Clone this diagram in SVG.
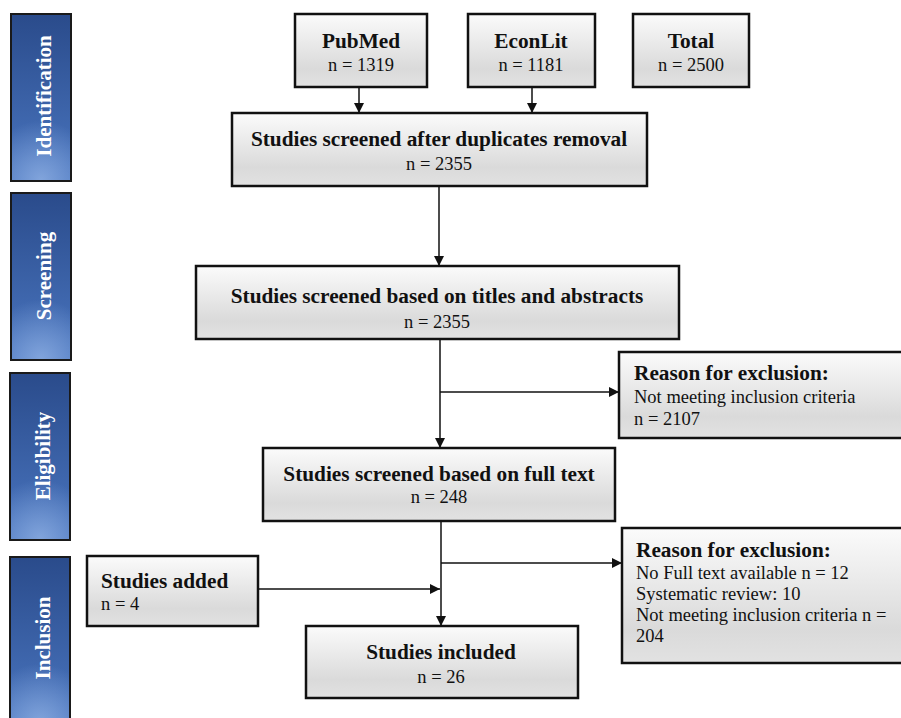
<svg xmlns="http://www.w3.org/2000/svg" width="901" height="718" viewBox="0 0 901 718">
<defs>
<linearGradient id="boxg" x1="0" y1="0" x2="0" y2="1">
<stop offset="0" stop-color="#fbfbfb"/>
<stop offset="0.75" stop-color="#dadada"/>
<stop offset="1" stop-color="#e2e2e2"/>
</linearGradient>
<linearGradient id="sideg" x1="0" y1="0" x2="0" y2="1">
<stop offset="0" stop-color="#2a4b8b"/>
<stop offset="1" stop-color="#4a76c0"/>
</linearGradient>
<radialGradient id="sideglow" cx="0.5" cy="1" r="0.6" gradientTransform="translate(0.5 1) scale(1.6 0.6) translate(-0.5 -1)">
<stop offset="0" stop-color="#8fb0e3" stop-opacity="0.8"/>
<stop offset="1" stop-color="#8fb0e3" stop-opacity="0"/>
</radialGradient>
<marker id="arr" viewBox="0 0 10 10" refX="10" refY="5" markerWidth="10" markerHeight="10" markerUnits="userSpaceOnUse" orient="auto">
<path d="M0,0 L10,5 L0,10 z" fill="#111"/>
</marker>
</defs>
<style>
.box{fill:url(#boxg);stroke:#111;stroke-width:2.5}
.side{fill:url(#sideg);stroke:#1a1a1a;stroke-width:2}
.glow{fill:url(#sideglow);stroke:none}
.st{font-family:"Liberation Serif","Times New Roman",serif;font-weight:bold;font-size:21.3px;fill:#111}
.sn{font-family:"Liberation Serif","Times New Roman",serif;font-size:18.5px;fill:#111}
.sl{font-family:"Liberation Serif","Times New Roman",serif;font-weight:bold;font-size:21px;fill:#fff}
.c{text-anchor:middle}
.ln{stroke:#111;stroke-width:1.5;fill:none}
</style>
<rect width="901" height="718" fill="#fff"/>

<g id="side-identification">
<rect class="side" x="11" y="14" width="60" height="167"/>
<rect class="glow" x="12" y="15" width="58" height="165"/>
<text class="sl c" transform="translate(51 96) rotate(-90)">Identification</text>
</g>
<g id="side-screening">
<rect class="side" x="11" y="193" width="60" height="167"/>
<rect class="glow" x="12" y="194" width="58" height="165"/>
<text class="sl c" transform="translate(51 276) rotate(-90)">Screening</text>
</g>
<g id="side-eligibility">
<rect class="side" x="10" y="373" width="60" height="167"/>
<rect class="glow" x="11" y="374" width="58" height="165"/>
<text class="sl c" transform="translate(50 456) rotate(-90)">Eligibility</text>
</g>
<g id="side-inclusion">
<rect class="side" x="10" y="557" width="60" height="167"/>
<rect class="glow" x="11" y="558" width="58" height="165"/>
<text class="sl c" transform="translate(50 638) rotate(-90)">Inclusion</text>
</g>

<g id="connectors">
<line class="ln" x1="359" y1="87" x2="359" y2="113" marker-end="url(#arr)"/>
<line class="ln" x1="532" y1="87" x2="532" y2="113" marker-end="url(#arr)"/>
<line class="ln" x1="439" y1="186" x2="439" y2="266" marker-end="url(#arr)"/>
<line class="ln" x1="440" y1="339" x2="440" y2="448" marker-end="url(#arr)"/>
<line class="ln" x1="440" y1="392" x2="619" y2="392" marker-end="url(#arr)"/>
<line class="ln" x1="441" y1="521" x2="441" y2="626" marker-end="url(#arr)"/>
<line class="ln" x1="441" y1="563" x2="622" y2="563" marker-end="url(#arr)"/>
<line class="ln" x1="258" y1="589" x2="440" y2="589" marker-end="url(#arr)"/>
</g>

<g id="pubmed">
<rect class="box" x="295" y="14" width="132" height="73"/>
<text class="st c" x="361" y="48">PubMed</text>
<text class="sn c" x="361" y="71">n = 1319</text>
</g>
<g id="econlit">
<rect class="box" x="468" y="14" width="127" height="73"/>
<text class="st c" x="531" y="48">EconLit</text>
<text class="sn c" x="531" y="71">n = 1181</text>
</g>
<g id="total">
<rect class="box" x="633" y="14" width="116" height="73"/>
<text class="st c" x="691" y="48">Total</text>
<text class="sn c" x="691" y="71">n = 2500</text>
</g>
<g id="duplicates">
<rect class="box" x="232" y="113" width="415" height="73"/>
<text class="st c" x="439" y="146">Studies screened after duplicates removal</text>
<text class="sn c" x="439" y="170">n = 2355</text>
</g>
<g id="titles-abstracts">
<rect class="box" x="196" y="266" width="483" height="73"/>
<text class="st c" x="437" y="303">Studies screened based on titles and abstracts</text>
<text class="sn c" x="437" y="328">n = 2355</text>
</g>
<g id="exclusion1">
<rect class="box" x="619" y="352" width="284" height="86"/>
<text class="st" x="634" y="380">Reason for exclusion:</text>
<text class="sn" x="634" y="403">Not meeting inclusion criteria</text>
<text class="sn" x="634" y="425">n = 2107</text>
</g>
<g id="fulltext">
<rect class="box" x="263" y="448" width="352" height="73"/>
<text class="st c" x="439" y="481">Studies screened based on full text</text>
<text class="sn c" x="439" y="503">n = 248</text>
</g>
<g id="exclusion2">
<rect class="box" x="622" y="528" width="281" height="135"/>
<text class="st" x="636" y="557">Reason for exclusion:</text>
<text class="sn" x="636" y="579">No Full text available n = 12</text>
<text class="sn" x="636" y="600">Systematic review: 10</text>
<text class="sn" x="636" y="621">Not meeting inclusion criteria n =</text>
<text class="sn" x="636" y="642">204</text>
</g>
<g id="studies-added">
<rect class="box" x="87" y="556" width="171" height="70"/>
<text class="st" x="101" y="588">Studies added</text>
<text class="sn" x="101" y="610">n = 4</text>
</g>
<g id="included">
<rect class="box" x="306" y="626" width="272" height="72"/>
<text class="st c" x="441" y="659">Studies included</text>
<text class="sn c" x="441" y="683">n = 26</text>
</g>
</svg>
